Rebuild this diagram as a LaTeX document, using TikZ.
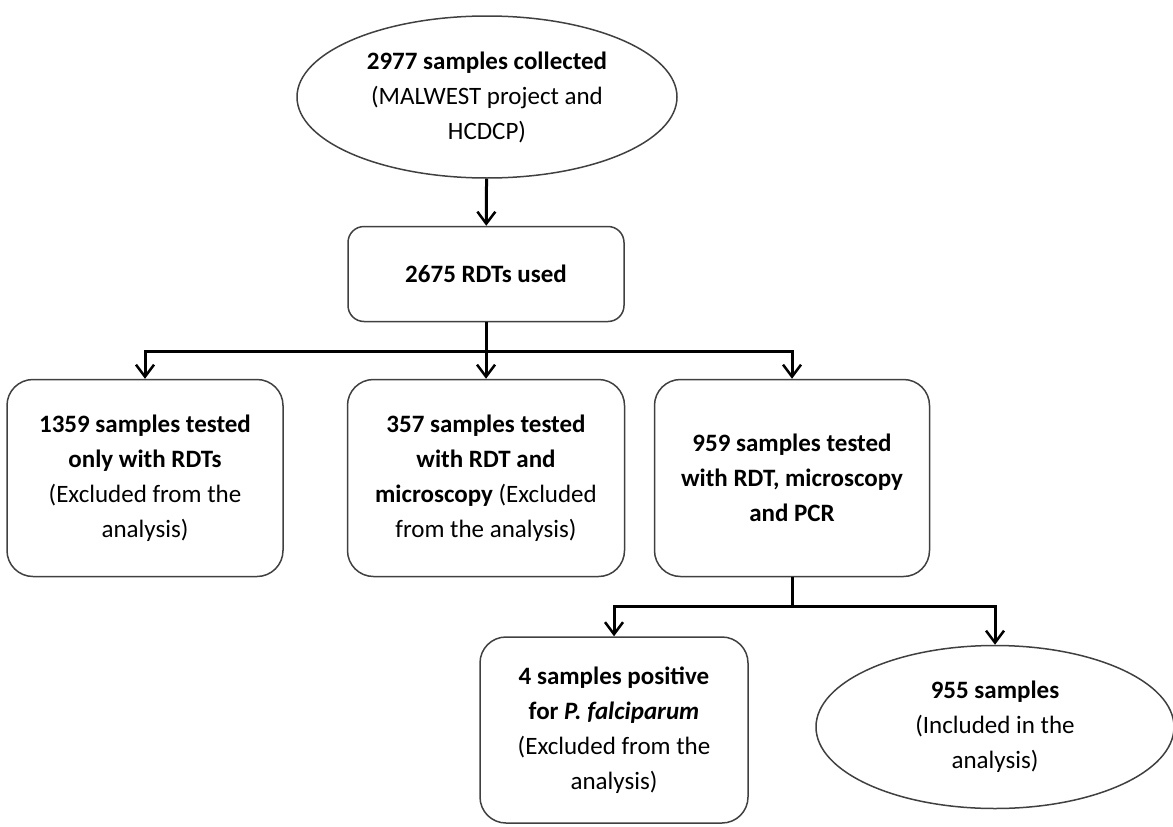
\documentclass[tikz,border=0pt]{standalone}
\usepackage{fontspec}
\setmainfont{Carlito}
\usetikzlibrary{shapes.geometric,arrows.meta}

\begin{document}
\begin{tikzpicture}[x=1pt,y=-1pt,
    every node/.style={font=\fontsize{25}{35}\selectfont,align=center,inner sep=0pt},
    box/.style={draw=black!75,line width=1.5pt,rounded corners=26pt},
    oval/.style={draw=black!75,line width=1.5pt,ellipse},
    conn/.style={line width=3pt},
    arr/.style={conn,-{Straight Barb[length=12pt,width=18pt,line width=2.5pt]}}]
  \useasboundingbox (0,0) rectangle (1173,827);

  % top of the flow
  \node[oval,minimum width=380,minimum height=162] (coll) at (487,97)
    {\textbf{2977 samples collected}\\(MALWEST project and\\HCDCP)};
  \node[box,rounded corners=16pt,minimum width=276,minimum height=95] (rdt) at (486,274)
    {\textbf{2675 RDTs used}};

  % three branches
  \node[box,minimum width=276,minimum height=197] (only) at (145,478)
    {\textbf{1359 samples tested}\\\textbf{only with RDTs}\\(Excluded from\ the\\analysis)};
  \node[box,minimum width=277,minimum height=197] (micro) at (486,478)
    {\textbf{357 samples tested}\\\textbf{with RDT and}\\\textbf{microscopy} (Excluded\\from the analysis)};
  \node[box,minimum width=275,minimum height=197] (pcr) at (792,478)
    {\textbf{959 samples tested}\\\textbf{with RDT, microscopy}\\\textbf{and PCR}};

  % outcome of PCR
  \node[box,minimum width=268,minimum height=186] (pos) at (614,730)
    {\textbf{4 samples positive}\\\textbf{for \textit{P.~falciparum}}\\(Excluded from\ the\\analysis)};
  \node[oval,minimum width=358,minimum height=163] (incl) at (995,727)
    {\textbf{955 samples}\\(Included in the\\analysis)};

  \coordinate (split1) at (486,351);
  \coordinate (split2) at (792,606);

  \draw[arr] (coll) -- (rdt);
  \draw[conn] (rdt) -- (split1);
  \draw[arr] (split1) -| (only.north);
  \draw[arr] (split1) -- (micro);
  \draw[arr] (split1) -| (pcr.north);
  \draw[conn] (pcr) -- (split2);
  \draw[arr] (split2) -| (pos.north);
  \draw[arr] (split2) -| (incl.north);
\end{tikzpicture}
\end{document}
